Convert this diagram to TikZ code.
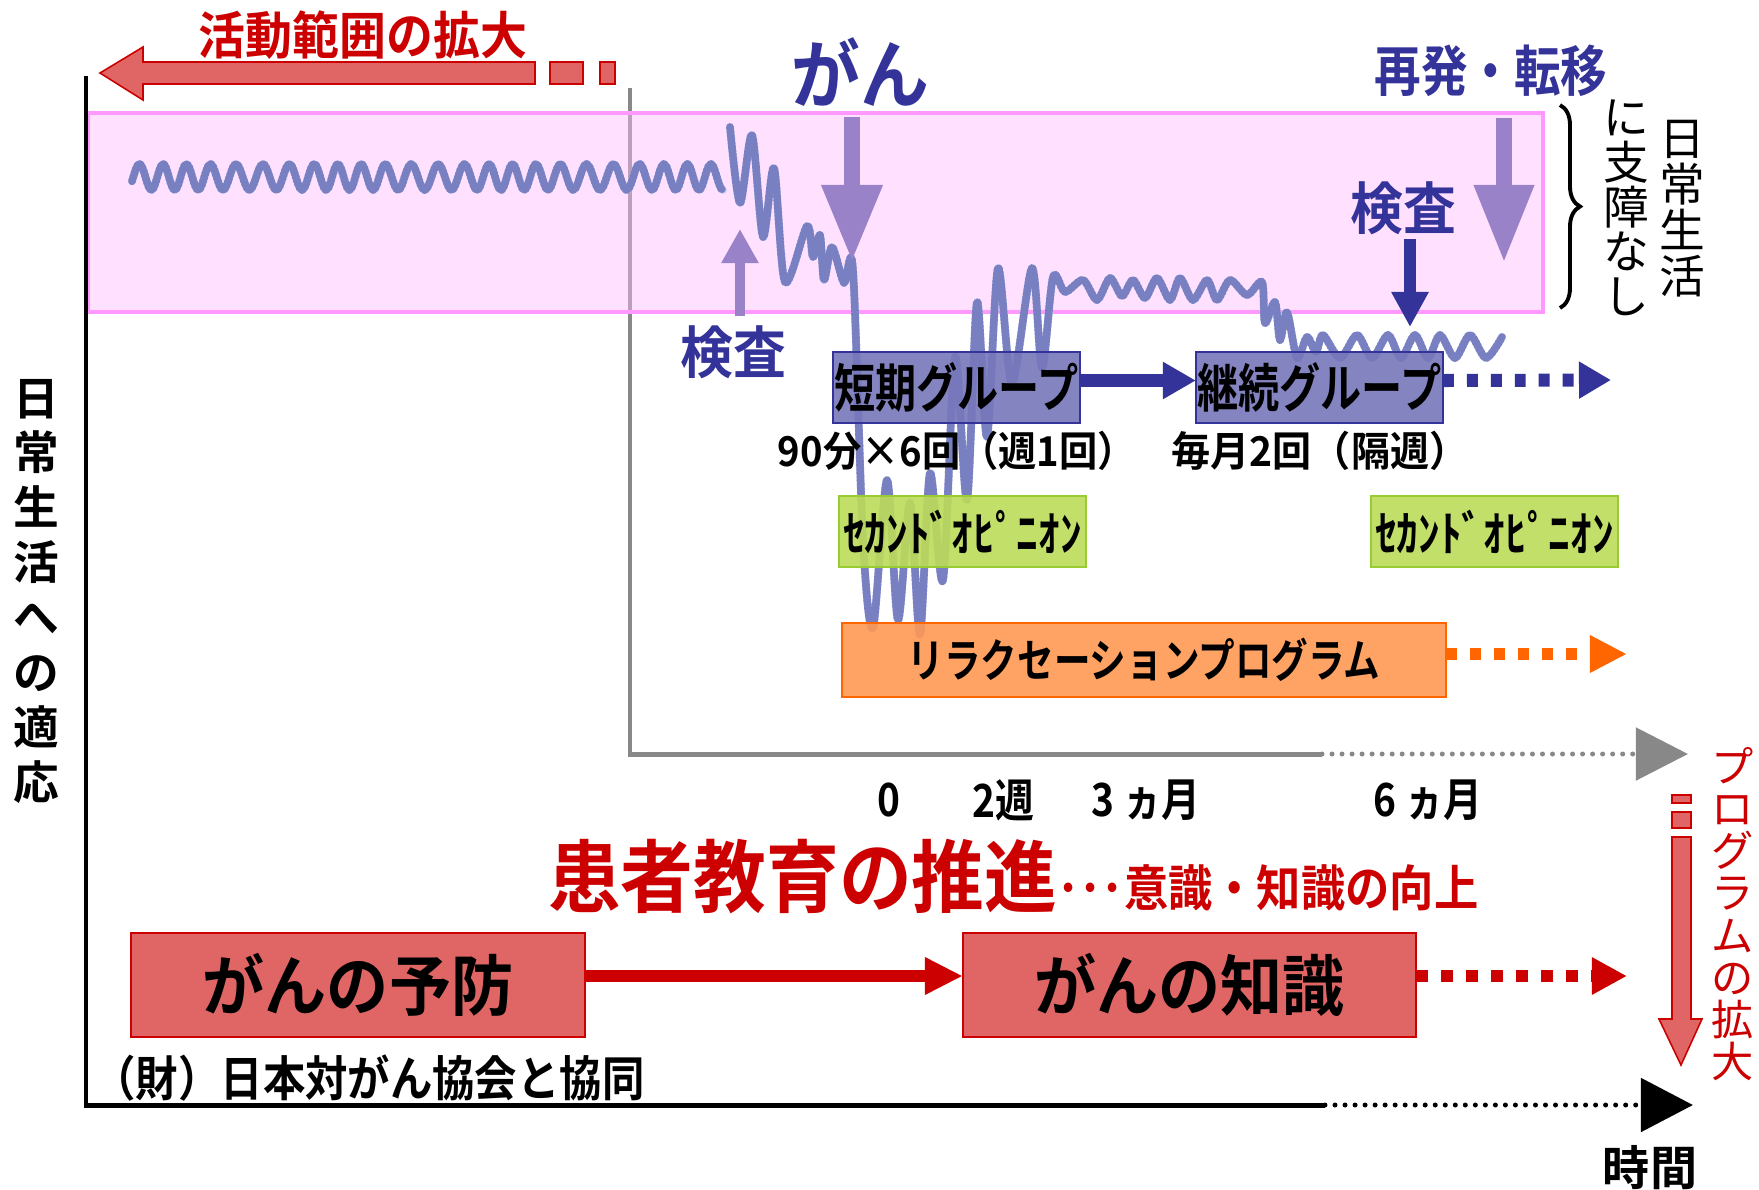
\documentclass[tikz,border=0pt]{standalone}
\usepackage{fontspec}
\setmainfont{Noto Sans CJK JP}[BoldFont={Noto Sans CJK JP Bold}]
\usepackage{graphicx}
\usetikzlibrary{arrows.meta,calc,decorations.pathreplacing}

\definecolor{cred}{HTML}{CC0000}
\definecolor{cpink}{HTML}{E06666}
\definecolor{cblue}{HTML}{333399}
\definecolor{cboxblue}{HTML}{7777BB}
\definecolor{clav}{HTML}{9A82C8}
\definecolor{cgreen}{HTML}{BCDC59}
\definecolor{cgreenb}{HTML}{99CC33}
\definecolor{corange}{HTML}{FF9955}
\definecolor{corangeb}{HTML}{FF6600}
\definecolor{cgray}{HTML}{888888}
\definecolor{cband}{RGB}{255,189,255}
\definecolor{cbandb}{HTML}{FF99FF}
\definecolor{cwavel}{HTML}{C4C8EA}
\definecolor{cwaved}{HTML}{7880C2}

\newcommand{\fsz}[1]{\fontsize{#1}{#1}\selectfont}
\newcommand{\fszb}[2]{\fontsize{#1}{#2}\selectfont}
\newcommand{\sx}[2]{\scalebox{#1}[1]{#2}}

\begin{document}
\begin{tikzpicture}[x=0.01cm, y=-0.01cm,
  every node/.style={inner sep=0pt, outer sep=0pt},
  axisline/.style={line width=1.42pt},
  dotaxis/.style={line width=1.42pt, line cap=round, dash pattern=on 0pt off 2.85pt},
  boxnode/.style={draw, line width=0.6pt, fill opacity=0.9, text opacity=1, text=black, font=\bfseries},
  wavepath/.style={line width=2.2pt, cwavel, line cap=round, line join=round,
     postaction={draw=cwaved, line width=2.2pt, dash pattern=on 0.55pt off 0.55pt}},
  blockarrow/.style={fill=cpink, draw=cred, line width=0.45pt},
  lavarrow/.style={clav},
  squaredash/.style={dash pattern=on 3.1pt off 3.7pt},
  vtext/.style={align=center}
]
\fill[white] (0,0) rectangle (1759,1190);
\useasboundingbox (0,0) rectangle (1759,1190);

% gray inner axes
\coordinate (G0) at (630,754);
\coordinate (Gtop) at (630,88);
\coordinate (Gsolid) at (1322,754);
\coordinate (Gtip) at (1688,754);
\draw[axisline, cgray] (Gtop) -- (G0) -- (Gsolid);
\draw[dotaxis, cgray, -{Triangle[length=0.52cm,width=0.52cm]}] (Gsolid) -- (Gtip);

% pink band
\fill[cband, fill opacity=0.45] (88,113) rectangle (1543,312);
\draw[cbandb, line width=1.1pt] (88,113) rectangle (1543,312);

% black outer axes
\coordinate (O) at (86,1105);
\coordinate (Ytop) at (86,76);
\coordinate (Xsolid) at (1325,1105);
\coordinate (Xtip) at (1693,1105);
\draw[axisline, black] (Ytop) -- (O) -- (Xsolid);
\draw[dotaxis, black, -{Triangle[length=0.52cm,width=0.53cm]}] (Xsolid) -- (Xtip);

% wave
\draw[wavepath] plot[domain=132:723, samples=300, smooth] (\x, {177+13*sin(14.4*\x+90+30*sin(2.1*\x))});
\draw[wavepath] plot[smooth, tension=0.5] coordinates {
 (730,127) (740,203) (752,135) (763,237) (774,168) (785,282) (807,226) (813,257)
 (820,235) (824,280) (832,247) (844,283) (853,270) (863,540) (873,628)
 (887,480) (898,620) (910,503) (920,635) (930,473) (943,580) (955,357) (967,500)
 (977,302) (987,437) (998,268) (1012,383) (1032,268) (1042,368) (1053,277)
 (1065,292) (1083,280) (1097,300) (1110,278) (1122,296) (1133,280) (1145,298)
 (1157,278) (1170,300) (1180,278) (1193,300) (1207,280) (1217,300) (1230,280)
 (1247,295) (1262,282) (1265,323) (1275,302) (1280,340) (1287,312) (1297,358)
 (1307,337) (1316,352) (1323,335) (1340,358) (1357,335) (1372,358) (1388,335)
 (1401,358) (1415,335) (1428,358) (1440,335) (1455,358) (1470,335) (1486,358) (1502,337)};

% top-left block arrow
\filldraw[blockarrow] (100,73) -- (143,47) -- (143,62) -- (535,62) -- (535,84) -- (143,84) -- (143,100) -- cycle;
\filldraw[blockarrow] (550,62) rectangle (583,84);
\filldraw[blockarrow] (600,62) rectangle (615,84);
\node[font=\bfseries\fsz{14.5}, text=cred] (tExpand) at (363,35) {\sx{0.92}{活動範囲の拡大}};

% right vertical block arrow
\filldraw[blockarrow] (1672,795) rectangle (1691,803);
\filldraw[blockarrow] (1672,812) rectangle (1691,828);
\filldraw[blockarrow] (1672,837) -- (1672,1019) -- (1659,1019) -- (1681,1065) -- (1702,1019) -- (1691,1019) -- (1691,837) -- cycle;
\node[vtext, font=\fszb{12}{12}, text=cred] (tProg) at (1733,914) {プ\\ロ\\グ\\ラ\\ム\\の\\拡\\大};

% labels top
\node[font=\bfseries\fsz{21.3}, text=cblue] (tGan) at (860,72) {\sx{0.92}{がん}};
\node[font=\bfseries\fsz{15.6}, text=cblue] (tRel) at (1491,71) {\sx{0.85}{再発・転移}};
\node[font=\bfseries\fsz{16}, text=cblue] (tK2) at (1403,208) {\sx{0.94}{検査}};
\node[font=\bfseries\fsz{16}, text=cblue] (tK1) at (733,352) {\sx{0.94}{検査}};

% lavender / blue arrows
\coordinate (ganS) at (852,117); \coordinate (ganE) at (852,262);
\draw[lavarrow, line width=4.55pt, -{Triangle[length=0.77cm,width=0.57cm]}] (ganS) -- (ganE);
\coordinate (relS) at (1504,118); \coordinate (relE) at (1504,263);
\draw[lavarrow, line width=4.55pt, -{Triangle[length=0.78cm,width=0.56cm]}] (relS) -- (relE);
\coordinate (k1S) at (740,316); \coordinate (k1E) at (740,229);
\draw[lavarrow, line width=3.1pt, -{Triangle[length=0.34cm,width=0.35cm]}] (k1S) -- (k1E);
\coordinate (k2S) at (1410,239); \coordinate (k2E) at (1410,327);
\draw[cblue, line width=3.6pt, -{Triangle[length=0.35cm,width=0.35cm]}] (k2S) -- (k2E);

% brace and side text
\coordinate (brT) at (1560,105); \coordinate (brB) at (1560,308);
\draw[line width=1.1pt, decorate, decoration={brace, amplitude=0.2cm}] (brT) -- (brB);
\node[vtext, font=\fszb{13}{12.7}] (tNo) at (1626,208) {に\\支\\障\\な\\し};
\node[vtext, font=\fszb{13}{13.1}] (tDaily) at (1682,209) {日\\常\\生\\活};
\node[vtext, font=\bfseries\fszb{13}{15.6}] (tAdapt) at (36,591) {日\\常\\生\\活\\へ\\の\\適\\応};

% group boxes
\node[boxnode, fill=cboxblue, draw=cblue, minimum width=2.47cm, minimum height=0.71cm] (short) at (956.5,387.5) {\fsz{14.8}\sx{0.79}{短期グループ}};
\node[boxnode, fill=cboxblue, draw=cblue, minimum width=2.47cm, minimum height=0.71cm] (cont) at (1319.5,387.5) {\fsz{14.8}\sx{0.79}{継続グループ}};
\coordinate (contEnd) at (1611,380);
\draw[cblue, line width=3.7pt, -{Triangle[length=0.33cm,width=0.35cm]}] ($(short.east)+(0,-7)$) -- ($(cont.west)+(0,-7)$);
\draw[cblue, line width=3.7pt, squaredash, -{Triangle[length=0.32cm,width=0.35cm]}] ($(cont.east)+(0,-7)$) -- (contEnd);
\node[font=\bfseries\fsz{11.7}] (tShortInfo) at (957,451) {\sx{0.93}{90分×6回（週1回）}};
\node[font=\bfseries\fsz{11.7}] (tContInfo) at (1320,451) {\sx{0.95}{毎月2回（隔週）}};

% second opinion boxes
\node[boxnode, fill=cgreen, draw=cgreenb, minimum width=2.47cm, minimum height=0.71cm] (sec1) at (962.5,531.5) {\fsz{13.7}\sx{0.9}{ｾｶﾝﾄﾞｵﾋﾟﾆｵﾝ}};
\node[boxnode, fill=cgreen, draw=cgreenb, minimum width=2.47cm, minimum height=0.71cm] (sec2) at (1494.5,531.5) {\fsz{13.7}\sx{0.9}{ｾｶﾝﾄﾞｵﾋﾟﾆｵﾝ}};

% relaxation
\node[boxnode, fill=corange, draw=corangeb, minimum width=6.04cm, minimum height=0.74cm] (relax) at (1144,660) {\fsz{13}\sx{0.8}{リラクセーションプログラム}};
\coordinate (relaxEnd) at (1627,654);
\draw[corangeb, line width=3.4pt, squaredash, -{Triangle[length=0.37cm,width=0.35cm]}] ($(relax.east)+(0,-6)$) -- (relaxEnd);

% ticks
\node[font=\bfseries\fsz{13}] (t0) at (889,800) {\sx{0.85}{0}};
\node[font=\bfseries\fsz{13}] (t2w) at (1003,800) {\sx{0.85}{2週}};
\node[font=\bfseries\fsz{13}] (t3m) at (1146,800) {\sx{0.85}{3 ヵ月}};
\node[font=\bfseries\fsz{13}] (t6m) at (1428,800) {\sx{0.85}{6 ヵ月}};

% patient education
\node[anchor=base west, text=cred, font=\bfseries] (tEdu) at (548,906) {\fsz{22.5}\sx{0.92}{患者教育の推進}\fsz{14}\sx{0.9}{･･･意識・知識の向上}};

\node[boxnode, fill=cpink, draw=cred, fill opacity=1, minimum width=4.54cm, minimum height=1.04cm] (prev) at (358,985) {\fsz{18.8}\sx{0.94}{がんの予防}};
\node[boxnode, fill=cpink, draw=cred, fill opacity=1, minimum width=4.53cm, minimum height=1.04cm] (know) at (1189.5,985) {\fsz{18.8}\sx{0.94}{がんの知識}};
\coordinate (knowEnd) at (1627,976);
\draw[cred, line width=3.4pt, -{Triangle[length=0.38cm,width=0.35cm]}] ($(prev.east)+(0,-9)$) -- ($(know.west)+(0,-9)$);
\draw[cred, line width=3.4pt, dash pattern=on 3.4pt off 3.7pt, -{Triangle[length=0.35cm,width=0.35cm]}] ($(know.east)+(0,-9)$) -- (knowEnd);

\node[font=\bfseries\fsz{13.7}] (tJCS) at (369,1078) {\sx{0.88}{（財）日本対がん協会と協同}};
\node[font=\bfseries\fsz{13.4}] (tTime) at (1650,1168) {時間};
\end{tikzpicture}
\end{document}
